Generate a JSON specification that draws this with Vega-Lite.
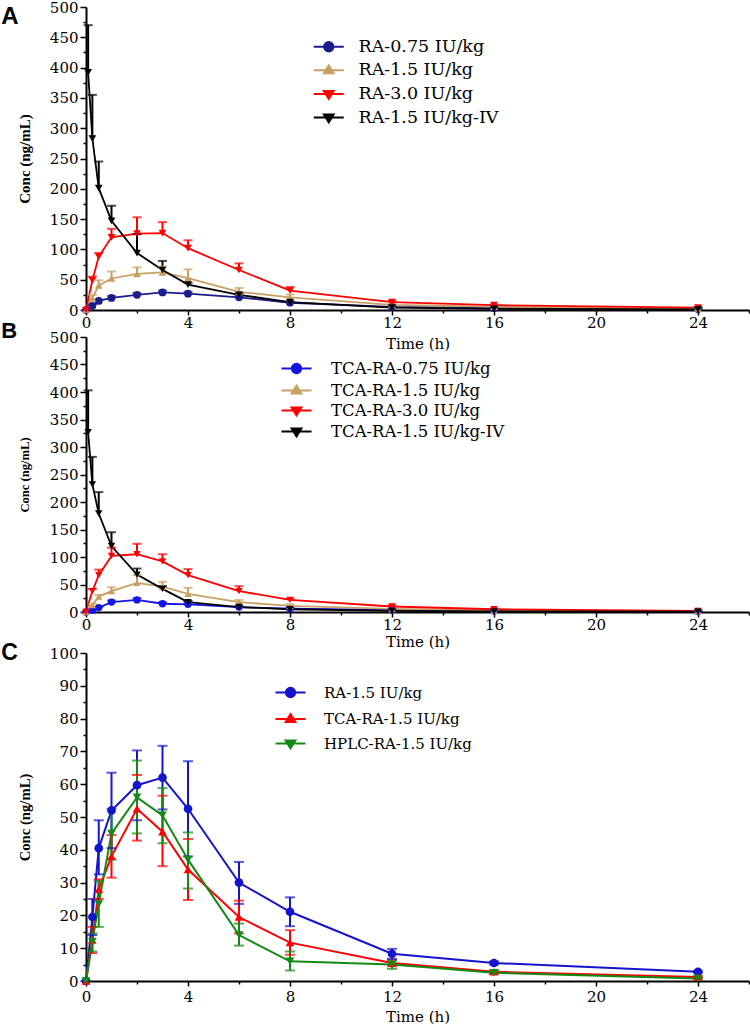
{
  "$schema": "https://vega.github.io/schema/vega-lite/v6.json",
  "background": "white",
  "padding": {"left": 1, "top": 0, "right": 0, "bottom": 0},
  "bounds": "flush",
  "spacing": 27,
  "resolve": {"scale": {"x": "independent", "y": "independent", "color": "independent"}, "legend": {"color": "independent"}},
  "config": {
    "view": {"stroke": null},
    "axis": {"grid": false, "domainColor": "#000000", "domainWidth": 2, "tickColor": "#000000", "tickWidth": 1.5, "labelColor": "#000000", "titleColor": "#000000", "labelFont": "DejaVu Serif", "labelFontSize": 15, "labelFlush": false, "labelOverlap": false, "labelBound": false},
    "legend": {"padding": 0, "labelColor": "#000000", "labelFont": "DejaVu Serif", "symbolSize": 225, "symbolStrokeWidth": 2, "labelLimit": 400}
  },
  "vconcat": [
    {
      "name": "pA",
      "width": 663,
      "height": 303,
      "title": {"text": "A", "anchor": "start", "frame": "bounds", "orient": "top", "baseline": "top", "offset": -29, "dx": -16, "font": "Liberation Sans", "fontSize": 24, "fontWeight": "bold", "color": "#000000"},
      "data": {"values": [
        {"s": "RA-0.75 IU/kg", "t": 0, "m": 0, "hi": 0},
        {"s": "RA-0.75 IU/kg", "t": 0.25, "m": 7, "hi": 9},
        {"s": "RA-0.75 IU/kg", "t": 0.5, "m": 15, "hi": 17},
        {"s": "RA-0.75 IU/kg", "t": 1, "m": 20, "hi": 23},
        {"s": "RA-0.75 IU/kg", "t": 2, "m": 25, "hi": 28},
        {"s": "RA-0.75 IU/kg", "t": 3, "m": 29, "hi": 32},
        {"s": "RA-0.75 IU/kg", "t": 4, "m": 27, "hi": 30},
        {"s": "RA-0.75 IU/kg", "t": 6, "m": 21, "hi": 23},
        {"s": "RA-0.75 IU/kg", "t": 8, "m": 12, "hi": 14},
        {"s": "RA-0.75 IU/kg", "t": 12, "m": 5, "hi": 6},
        {"s": "RA-0.75 IU/kg", "t": 16, "m": 3, "hi": 3.5},
        {"s": "RA-0.75 IU/kg", "t": 24, "m": 1.5, "hi": 2},
        {"s": "RA-1.5 IU/kg", "t": 0, "m": 0, "hi": 0},
        {"s": "RA-1.5 IU/kg", "t": 0.25, "m": 19.5, "hi": 25},
        {"s": "RA-1.5 IU/kg", "t": 0.5, "m": 40.5, "hi": 49},
        {"s": "RA-1.5 IU/kg", "t": 1, "m": 52, "hi": 63.5},
        {"s": "RA-1.5 IU/kg", "t": 2, "m": 59.7, "hi": 70.3},
        {"s": "RA-1.5 IU/kg", "t": 3, "m": 62, "hi": 71.7},
        {"s": "RA-1.5 IU/kg", "t": 4, "m": 52.5, "hi": 67},
        {"s": "RA-1.5 IU/kg", "t": 6, "m": 30, "hi": 36.3},
        {"s": "RA-1.5 IU/kg", "t": 8, "m": 21, "hi": 25.5},
        {"s": "RA-1.5 IU/kg", "t": 12, "m": 8.3, "hi": 9.8},
        {"s": "RA-1.5 IU/kg", "t": 16, "m": 5.5, "hi": 6},
        {"s": "RA-1.5 IU/kg", "t": 24, "m": 2.8, "hi": 3.1},
        {"s": "RA-3.0 IU/kg", "t": 0, "m": 0, "hi": 0},
        {"s": "RA-3.0 IU/kg", "t": 0.25, "m": 49, "hi": 55},
        {"s": "RA-3.0 IU/kg", "t": 0.5, "m": 88, "hi": 94},
        {"s": "RA-3.0 IU/kg", "t": 1, "m": 120, "hi": 134},
        {"s": "RA-3.0 IU/kg", "t": 2, "m": 126, "hi": 153},
        {"s": "RA-3.0 IU/kg", "t": 3, "m": 127, "hi": 145},
        {"s": "RA-3.0 IU/kg", "t": 4, "m": 102, "hi": 115},
        {"s": "RA-3.0 IU/kg", "t": 6, "m": 66, "hi": 77},
        {"s": "RA-3.0 IU/kg", "t": 8, "m": 32, "hi": 38},
        {"s": "RA-3.0 IU/kg", "t": 12, "m": 13, "hi": 15},
        {"s": "RA-3.0 IU/kg", "t": 16, "m": 8, "hi": 9},
        {"s": "RA-3.0 IU/kg", "t": 24, "m": 4, "hi": 5},
        {"s": "RA-1.5 IU/kg-IV", "t": 0.083, "m": 392, "hi": 470},
        {"s": "RA-1.5 IU/kg-IV", "t": 0.25, "m": 283, "hi": 355},
        {"s": "RA-1.5 IU/kg-IV", "t": 0.5, "m": 201, "hi": 245},
        {"s": "RA-1.5 IU/kg-IV", "t": 1, "m": 147, "hi": 172},
        {"s": "RA-1.5 IU/kg-IV", "t": 2, "m": 94, "hi": 125},
        {"s": "RA-1.5 IU/kg-IV", "t": 3, "m": 66, "hi": 81},
        {"s": "RA-1.5 IU/kg-IV", "t": 4, "m": 42, "hi": 45},
        {"s": "RA-1.5 IU/kg-IV", "t": 6, "m": 25, "hi": 27},
        {"s": "RA-1.5 IU/kg-IV", "t": 8, "m": 13, "hi": 14},
        {"s": "RA-1.5 IU/kg-IV", "t": 12, "m": 4, "hi": 5},
        {"s": "RA-1.5 IU/kg-IV", "t": 16, "m": 2, "hi": 2.5},
        {"s": "RA-1.5 IU/kg-IV", "t": 24, "m": 1, "hi": 1.2}
      ]},
      "encoding": {
        "x": {"field": "t", "type": "quantitative", "scale": {"domain": [0, 26], "nice": false, "zero": false},
          "axis": {"title": "Time (h)", "values": [0, 2, 4, 6, 8, 10, 12, 14, 16, 18, 20, 22, 24, 26], "labelExpr": "datum.value % 4 === 0 ? datum.label : ''", "tickSize": {"condition": {"test": "datum.value % 4 === 0", "value": 5}, "value": 3}, "labelPadding": 0, "titleFont": "DejaVu Serif", "titleFontSize": 15, "titleFontWeight": "normal", "titlePadding": 6}},
        "color": {"field": "s", "type": "nominal", "scale": {"domain": ["RA-0.75 IU/kg", "RA-1.5 IU/kg", "RA-3.0 IU/kg", "RA-1.5 IU/kg-IV"], "range": ["#1c1c8c", "#c8a064", "#ff0000", "#000000"]},
          "legend": {"orient": "none", "legendX": 234, "legendY": 31, "title": null, "labelFontSize": 17.5, "labelOffset": 21, "rowPadding": 4.6,
            "encode": {"symbols": {"update": {
              "shape": {"signal": "datum.value === 'RA-0.75 IU/kg' ? 'M-2,0L2,0M-0.62,0A0.62,0.62,0,1,1,0.62,0A0.62,0.62,0,1,1,-0.62,0Z' : datum.value === 'RA-1.5 IU/kg' ? 'M-2,0L2,0M-0.65,0.4L0.65,0.4L0,-0.65Z' : 'M-2,0L2,0M-0.65,-0.4L0.65,-0.4L0,0.65Z'"},
              "stroke": {"signal": "datum.value === 'RA-0.75 IU/kg' ? '#1c1c8c' : datum.value === 'RA-1.5 IU/kg' ? '#c8a064' : datum.value === 'RA-3.0 IU/kg' ? '#ff0000' : '#000000'"},
              "fill": {"signal": "datum.value === 'RA-0.75 IU/kg' ? '#1c1c8c' : datum.value === 'RA-1.5 IU/kg' ? '#c8a064' : datum.value === 'RA-3.0 IU/kg' ? '#ff0000' : '#000000'"},
              "strokeWidth": {"value": 2}, "size": {"value": 225}, "opacity": {"value": 1}}}}}}
      },
      "layer": [
        {"mark": {"type": "line", "strokeWidth": 1.8},
         "encoding": {"y": {"field": "m", "type": "quantitative", "title": "Conc (ng/mL)", "scale": {"domain": [0, 500], "nice": false},
           "axis": {"values": [0, 25, 50, 75, 100, 125, 150, 175, 200, 225, 250, 275, 300, 325, 350, 375, 400, 425, 450, 475, 500], "labelExpr": "datum.value % 50 === 0 ? datum.label : ''", "tickSize": {"condition": {"test": "datum.value % 50 === 0", "value": 6}, "value": 3}, "labelPadding": 2, "titleFont": "Liberation Serif", "titleFontSize": 15, "titleFontWeight": "bold", "titlePadding": 17}}}},
        {"mark": {"type": "rule", "strokeWidth": 2},
         "encoding": {"y": {"field": "m", "type": "quantitative", "title": "Conc (ng/mL)",
           "axis": {"values": [0, 25, 50, 75, 100, 125, 150, 175, 200, 225, 250, 275, 300, 325, 350, 375, 400, 425, 450, 475, 500], "labelExpr": "datum.value % 50 === 0 ? datum.label : ''", "tickSize": {"condition": {"test": "datum.value % 50 === 0", "value": 6}, "value": 3}, "labelPadding": 2, "titleFont": "Liberation Serif", "titleFontSize": 15, "titleFontWeight": "bold", "titlePadding": 17}}, "y2": {"field": "hi"}}},
        {"mark": {"type": "tick", "orient": "horizontal", "size": 9, "thickness": 2},
         "encoding": {"y": {"field": "hi", "type": "quantitative", "title": "Conc (ng/mL)",
           "axis": {"values": [0, 25, 50, 75, 100, 125, 150, 175, 200, 225, 250, 275, 300, 325, 350, 375, 400, 425, 450, 475, 500], "labelExpr": "datum.value % 50 === 0 ? datum.label : ''", "tickSize": {"condition": {"test": "datum.value % 50 === 0", "value": 6}, "value": 3}, "labelPadding": 2, "titleFont": "Liberation Serif", "titleFontSize": 15, "titleFontWeight": "bold", "titlePadding": 17}}}},
        {"mark": {"type": "point", "filled": true, "opacity": 1, "size": 60},
         "encoding": {"y": {"field": "m", "type": "quantitative", "title": "Conc (ng/mL)",
           "axis": {"values": [0, 25, 50, 75, 100, 125, 150, 175, 200, 225, 250, 275, 300, 325, 350, 375, 400, 425, 450, 475, 500], "labelExpr": "datum.value % 50 === 0 ? datum.label : ''", "tickSize": {"condition": {"test": "datum.value % 50 === 0", "value": 6}, "value": 3}, "labelPadding": 2, "titleFont": "Liberation Serif", "titleFontSize": 15, "titleFontWeight": "bold", "titlePadding": 17}},
           "shape": {"value": {"expr": "datum.s === 'RA-0.75 IU/kg' ? 'circle' : datum.s === 'RA-1.5 IU/kg' ? 'triangle-up' : 'triangle-down'"}}}}
      ]
    },
    {
      "name": "pB",
      "width": 663,
      "height": 275,
      "title": {"text": "B", "anchor": "start", "frame": "bounds", "orient": "top", "baseline": "middle", "offset": -23, "dx": -17, "font": "Liberation Sans", "fontSize": 22, "fontWeight": "bold", "color": "#000000"},
      "data": {"values": [
        {"s": "TCA-RA-0.75 IU/kg", "t": 0, "m": 0, "hi": 0},
        {"s": "TCA-RA-0.75 IU/kg", "t": 0.25, "m": 3, "hi": 4},
        {"s": "TCA-RA-0.75 IU/kg", "t": 0.5, "m": 8, "hi": 9},
        {"s": "TCA-RA-0.75 IU/kg", "t": 1, "m": 18, "hi": 21},
        {"s": "TCA-RA-0.75 IU/kg", "t": 2, "m": 22, "hi": 25},
        {"s": "TCA-RA-0.75 IU/kg", "t": 3, "m": 15, "hi": 18},
        {"s": "TCA-RA-0.75 IU/kg", "t": 4, "m": 14, "hi": 16},
        {"s": "TCA-RA-0.75 IU/kg", "t": 6, "m": 9, "hi": 11},
        {"s": "TCA-RA-0.75 IU/kg", "t": 8, "m": 6, "hi": 7},
        {"s": "TCA-RA-0.75 IU/kg", "t": 12, "m": 4, "hi": 5},
        {"s": "TCA-RA-0.75 IU/kg", "t": 16, "m": 2, "hi": 2.5},
        {"s": "TCA-RA-0.75 IU/kg", "t": 24, "m": 1, "hi": 1.5},
        {"s": "TCA-RA-1.5 IU/kg", "t": 0, "m": 0, "hi": 0},
        {"s": "TCA-RA-1.5 IU/kg", "t": 0.25, "m": 12.5, "hi": 15},
        {"s": "TCA-RA-1.5 IU/kg", "t": 0.5, "m": 28, "hi": 31},
        {"s": "TCA-RA-1.5 IU/kg", "t": 1, "m": 38, "hi": 45},
        {"s": "TCA-RA-1.5 IU/kg", "t": 2, "m": 53, "hi": 67},
        {"s": "TCA-RA-1.5 IU/kg", "t": 3, "m": 46, "hi": 55},
        {"s": "TCA-RA-1.5 IU/kg", "t": 4, "m": 33, "hi": 44},
        {"s": "TCA-RA-1.5 IU/kg", "t": 6, "m": 18, "hi": 22},
        {"s": "TCA-RA-1.5 IU/kg", "t": 8, "m": 11, "hi": 14},
        {"s": "TCA-RA-1.5 IU/kg", "t": 12, "m": 5.5, "hi": 6.5},
        {"s": "TCA-RA-1.5 IU/kg", "t": 16, "m": 2.8, "hi": 3.3},
        {"s": "TCA-RA-1.5 IU/kg", "t": 24, "m": 1.2, "hi": 1.5},
        {"s": "TCA-RA-3.0 IU/kg", "t": 0, "m": 0, "hi": 0},
        {"s": "TCA-RA-3.0 IU/kg", "t": 0.25, "m": 38, "hi": 42},
        {"s": "TCA-RA-3.0 IU/kg", "t": 0.5, "m": 67, "hi": 77},
        {"s": "TCA-RA-3.0 IU/kg", "t": 1, "m": 102, "hi": 117},
        {"s": "TCA-RA-3.0 IU/kg", "t": 2, "m": 105, "hi": 124},
        {"s": "TCA-RA-3.0 IU/kg", "t": 3, "m": 92, "hi": 105},
        {"s": "TCA-RA-3.0 IU/kg", "t": 4, "m": 67, "hi": 78},
        {"s": "TCA-RA-3.0 IU/kg", "t": 6, "m": 38, "hi": 47},
        {"s": "TCA-RA-3.0 IU/kg", "t": 8, "m": 22, "hi": 24},
        {"s": "TCA-RA-3.0 IU/kg", "t": 12, "m": 10, "hi": 12},
        {"s": "TCA-RA-3.0 IU/kg", "t": 16, "m": 5, "hi": 6},
        {"s": "TCA-RA-3.0 IU/kg", "t": 24, "m": 2, "hi": 3},
        {"s": "TCA-RA-1.5 IU/kg-IV", "t": 0.083, "m": 327, "hi": 403},
        {"s": "TCA-RA-1.5 IU/kg-IV", "t": 0.25, "m": 232, "hi": 282},
        {"s": "TCA-RA-1.5 IU/kg-IV", "t": 0.5, "m": 179, "hi": 218},
        {"s": "TCA-RA-1.5 IU/kg-IV", "t": 1, "m": 120, "hi": 145},
        {"s": "TCA-RA-1.5 IU/kg-IV", "t": 2, "m": 68, "hi": 79},
        {"s": "TCA-RA-1.5 IU/kg-IV", "t": 3, "m": 42, "hi": 47},
        {"s": "TCA-RA-1.5 IU/kg-IV", "t": 4, "m": 18, "hi": 20},
        {"s": "TCA-RA-1.5 IU/kg-IV", "t": 6, "m": 9, "hi": 10},
        {"s": "TCA-RA-1.5 IU/kg-IV", "t": 8, "m": 5, "hi": 6},
        {"s": "TCA-RA-1.5 IU/kg-IV", "t": 12, "m": 2, "hi": 2.5},
        {"s": "TCA-RA-1.5 IU/kg-IV", "t": 16, "m": 1, "hi": 1.2},
        {"s": "TCA-RA-1.5 IU/kg-IV", "t": 24, "m": 0.5, "hi": 0.6}
      ]},
      "encoding": {
        "x": {"field": "t", "type": "quantitative", "scale": {"domain": [0, 26], "nice": false, "zero": false},
          "axis": {"title": "Time (h)", "values": [0, 2, 4, 6, 8, 10, 12, 14, 16, 18, 20, 22, 24, 26], "labelExpr": "datum.value % 4 === 0 ? datum.label : ''", "tickSize": {"condition": {"test": "datum.value % 4 === 0", "value": 5}, "value": 3}, "labelPadding": 0, "titleFont": "DejaVu Serif", "titleFontSize": 15, "titleFontWeight": "normal", "titlePadding": 2}},
        "color": {"field": "s", "type": "nominal", "scale": {"domain": ["TCA-RA-0.75 IU/kg", "TCA-RA-1.5 IU/kg", "TCA-RA-3.0 IU/kg", "TCA-RA-1.5 IU/kg-IV"], "range": ["#1515e0", "#c8a064", "#ff0000", "#000000"]},
          "legend": {"orient": "none", "legendX": 202, "legendY": 23, "title": null, "labelFontSize": 16.5, "labelOffset": 26, "rowPadding": 3,
            "encode": {"symbols": {"update": {
              "shape": {"signal": "datum.value === 'TCA-RA-0.75 IU/kg' ? 'M-2,0L2,0M-0.62,0A0.62,0.62,0,1,1,0.62,0A0.62,0.62,0,1,1,-0.62,0Z' : datum.value === 'TCA-RA-1.5 IU/kg' ? 'M-2,0L2,0M-0.65,0.4L0.65,0.4L0,-0.65Z' : 'M-2,0L2,0M-0.65,-0.4L0.65,-0.4L0,0.65Z'"},
              "stroke": {"signal": "datum.value === 'TCA-RA-0.75 IU/kg' ? '#1515e0' : datum.value === 'TCA-RA-1.5 IU/kg' ? '#c8a064' : datum.value === 'TCA-RA-3.0 IU/kg' ? '#ff0000' : '#000000'"},
              "fill": {"signal": "datum.value === 'TCA-RA-0.75 IU/kg' ? '#1515e0' : datum.value === 'TCA-RA-1.5 IU/kg' ? '#c8a064' : datum.value === 'TCA-RA-3.0 IU/kg' ? '#ff0000' : '#000000'"},
              "strokeWidth": {"value": 2}, "size": {"value": 225}, "opacity": {"value": 1}}}}}}
      },
      "layer": [
        {"mark": {"type": "line", "strokeWidth": 1.8},
         "encoding": {"y": {"field": "m", "type": "quantitative", "title": "Conc (ng/mL)", "scale": {"domain": [0, 500], "nice": false},
           "axis": {"values": [0, 25, 50, 75, 100, 125, 150, 175, 200, 225, 250, 275, 300, 325, 350, 375, 400, 425, 450, 475, 500], "labelExpr": "datum.value % 50 === 0 ? datum.label : ''", "tickSize": {"condition": {"test": "datum.value % 50 === 0", "value": 6}, "value": 3}, "labelPadding": 2, "titleFont": "Liberation Serif", "titleFontSize": 12.6, "titleFontWeight": "bold", "titlePadding": 18}}}},
        {"mark": {"type": "rule", "strokeWidth": 2},
         "encoding": {"y": {"field": "m", "type": "quantitative", "title": "Conc (ng/mL)",
           "axis": {"values": [0, 25, 50, 75, 100, 125, 150, 175, 200, 225, 250, 275, 300, 325, 350, 375, 400, 425, 450, 475, 500], "labelExpr": "datum.value % 50 === 0 ? datum.label : ''", "tickSize": {"condition": {"test": "datum.value % 50 === 0", "value": 6}, "value": 3}, "labelPadding": 2, "titleFont": "Liberation Serif", "titleFontSize": 12.6, "titleFontWeight": "bold", "titlePadding": 18}}, "y2": {"field": "hi"}}},
        {"mark": {"type": "tick", "orient": "horizontal", "size": 9, "thickness": 2},
         "encoding": {"y": {"field": "hi", "type": "quantitative", "title": "Conc (ng/mL)",
           "axis": {"values": [0, 25, 50, 75, 100, 125, 150, 175, 200, 225, 250, 275, 300, 325, 350, 375, 400, 425, 450, 475, 500], "labelExpr": "datum.value % 50 === 0 ? datum.label : ''", "tickSize": {"condition": {"test": "datum.value % 50 === 0", "value": 6}, "value": 3}, "labelPadding": 2, "titleFont": "Liberation Serif", "titleFontSize": 12.6, "titleFontWeight": "bold", "titlePadding": 18}}}},
        {"mark": {"type": "point", "filled": true, "opacity": 1, "size": 55},
         "encoding": {"y": {"field": "m", "type": "quantitative", "title": "Conc (ng/mL)",
           "axis": {"values": [0, 25, 50, 75, 100, 125, 150, 175, 200, 225, 250, 275, 300, 325, 350, 375, 400, 425, 450, 475, 500], "labelExpr": "datum.value % 50 === 0 ? datum.label : ''", "tickSize": {"condition": {"test": "datum.value % 50 === 0", "value": 6}, "value": 3}, "labelPadding": 2, "titleFont": "Liberation Serif", "titleFontSize": 12.6, "titleFontWeight": "bold", "titlePadding": 18}},
           "shape": {"value": {"expr": "datum.s === 'TCA-RA-0.75 IU/kg' ? 'circle' : datum.s === 'TCA-RA-1.5 IU/kg' ? 'triangle-up' : 'triangle-down'"}}}}
      ]
    },
    {
      "name": "pC",
      "width": 663,
      "height": 342,
      "title": {"text": "C", "anchor": "start", "frame": "bounds", "orient": "top", "baseline": "middle", "offset": -37, "dx": -16, "font": "Liberation Sans", "fontSize": 23, "fontWeight": "bold", "color": "#000000"},
      "data": {"values": [
        {"s": "RA-1.5 IU/kg", "t": 0, "m": 0, "lo": 0, "hi": 0},
        {"s": "RA-1.5 IU/kg", "t": 0.25, "m": 19.5, "lo": 14, "hi": 25},
        {"s": "RA-1.5 IU/kg", "t": 0.5, "m": 40.5, "lo": 32.5, "hi": 49},
        {"s": "RA-1.5 IU/kg", "t": 1, "m": 52, "lo": 40.5, "hi": 63.5},
        {"s": "RA-1.5 IU/kg", "t": 2, "m": 59.7, "lo": 49, "hi": 70.3},
        {"s": "RA-1.5 IU/kg", "t": 3, "m": 62, "lo": 52.3, "hi": 71.7},
        {"s": "RA-1.5 IU/kg", "t": 4, "m": 52.5, "lo": 38, "hi": 67},
        {"s": "RA-1.5 IU/kg", "t": 6, "m": 30, "lo": 23.5, "hi": 36.3},
        {"s": "RA-1.5 IU/kg", "t": 8, "m": 21.1, "lo": 16.7, "hi": 25.5},
        {"s": "RA-1.5 IU/kg", "t": 12, "m": 8.3, "lo": 6.8, "hi": 9.8},
        {"s": "RA-1.5 IU/kg", "t": 16, "m": 5.5, "lo": 5, "hi": 6},
        {"s": "RA-1.5 IU/kg", "t": 24, "m": 2.8, "lo": 2.5, "hi": 3.1},
        {"s": "TCA-RA-1.5 IU/kg", "t": 0, "m": 0, "lo": 0, "hi": 0},
        {"s": "TCA-RA-1.5 IU/kg", "t": 0.25, "m": 12.5, "lo": 8.5, "hi": 16.5},
        {"s": "TCA-RA-1.5 IU/kg", "t": 0.5, "m": 28, "lo": 25, "hi": 31},
        {"s": "TCA-RA-1.5 IU/kg", "t": 1, "m": 38, "lo": 31.5, "hi": 44.5},
        {"s": "TCA-RA-1.5 IU/kg", "t": 2, "m": 52.5, "lo": 42.8, "hi": 62.8},
        {"s": "TCA-RA-1.5 IU/kg", "t": 3, "m": 45.5, "lo": 35, "hi": 56.5},
        {"s": "TCA-RA-1.5 IU/kg", "t": 4, "m": 34, "lo": 24.7, "hi": 43.3},
        {"s": "TCA-RA-1.5 IU/kg", "t": 6, "m": 19.5, "lo": 14.5, "hi": 24.5},
        {"s": "TCA-RA-1.5 IU/kg", "t": 8, "m": 11.7, "lo": 8, "hi": 15.5},
        {"s": "TCA-RA-1.5 IU/kg", "t": 12, "m": 5.5, "lo": 4.5, "hi": 6.5},
        {"s": "TCA-RA-1.5 IU/kg", "t": 16, "m": 2.8, "lo": 2.3, "hi": 3.3},
        {"s": "TCA-RA-1.5 IU/kg", "t": 24, "m": 1.2, "lo": 0.9, "hi": 1.5},
        {"s": "HPLC-RA-1.5 IU/kg", "t": 0, "m": 0, "lo": 0, "hi": 0},
        {"s": "HPLC-RA-1.5 IU/kg", "t": 0.25, "m": 12, "lo": 9, "hi": 14.5},
        {"s": "HPLC-RA-1.5 IU/kg", "t": 0.5, "m": 23.5, "lo": 16.5, "hi": 30.5},
        {"s": "HPLC-RA-1.5 IU/kg", "t": 1, "m": 45, "lo": 37, "hi": 52.5},
        {"s": "HPLC-RA-1.5 IU/kg", "t": 2, "m": 56, "lo": 45, "hi": 67.2},
        {"s": "HPLC-RA-1.5 IU/kg", "t": 3, "m": 50.5, "lo": 42, "hi": 58.8},
        {"s": "HPLC-RA-1.5 IU/kg", "t": 4, "m": 37, "lo": 28.2, "hi": 45.3},
        {"s": "HPLC-RA-1.5 IU/kg", "t": 6, "m": 14, "lo": 10.8, "hi": 17.5},
        {"s": "HPLC-RA-1.5 IU/kg", "t": 8, "m": 6, "lo": 3.2, "hi": 9},
        {"s": "HPLC-RA-1.5 IU/kg", "t": 12, "m": 5, "lo": 3.7, "hi": 6.3},
        {"s": "HPLC-RA-1.5 IU/kg", "t": 16, "m": 2.5, "lo": 2.2, "hi": 2.8},
        {"s": "HPLC-RA-1.5 IU/kg", "t": 24, "m": 0.8, "lo": 0.6, "hi": 1}
      ]},
      "encoding": {
        "x": {"field": "t", "type": "quantitative", "scale": {"domain": [0, 26], "nice": false, "zero": false},
          "axis": {"title": "Time (h)", "values": [0, 2, 4, 6, 8, 10, 12, 14, 16, 18, 20, 22, 24, 26], "labelExpr": "datum.value % 4 === 0 ? datum.label : ''", "tickSize": {"condition": {"test": "datum.value % 4 === 0", "value": 5}, "value": 3}, "labelPadding": 3, "titleFont": "DejaVu Serif", "titleFontSize": 15, "titleFontWeight": "normal", "titlePadding": 5}},
        "color": {"field": "s", "type": "nominal", "scale": {"domain": ["RA-1.5 IU/kg", "TCA-RA-1.5 IU/kg", "HPLC-RA-1.5 IU/kg"], "range": ["#1414cc", "#ff0000", "#138a13"]},
          "legend": {"orient": "none", "legendX": 196, "legendY": 45, "title": null, "labelFontSize": 15, "labelOffset": 25, "rowPadding": 7.5,
            "encode": {"symbols": {"update": {
              "shape": {"signal": "datum.value === 'RA-1.5 IU/kg' ? 'M-2,0L2,0M-0.62,0A0.62,0.62,0,1,1,0.62,0A0.62,0.62,0,1,1,-0.62,0Z' : datum.value === 'TCA-RA-1.5 IU/kg' ? 'M-2,0L2,0M-0.65,0.4L0.65,0.4L0,-0.65Z' : 'M-2,0L2,0M-0.65,-0.4L0.65,-0.4L0,0.65Z'"},
              "stroke": {"signal": "datum.value === 'RA-1.5 IU/kg' ? '#1414cc' : datum.value === 'TCA-RA-1.5 IU/kg' ? '#ff0000' : '#138a13'"},
              "fill": {"signal": "datum.value === 'RA-1.5 IU/kg' ? '#1414cc' : datum.value === 'TCA-RA-1.5 IU/kg' ? '#ff0000' : '#138a13'"},
              "strokeWidth": {"value": 2}, "size": {"value": 225}, "opacity": {"value": 1}}}}}}
      },
      "layer": [
        {"mark": {"type": "line", "strokeWidth": 2},
         "encoding": {"y": {"field": "m", "type": "quantitative", "title": "Conc (ng/mL)", "scale": {"domain": [0, 100], "nice": false, "range": [342, 14]},
           "axis": {"values": [0, 5, 10, 15, 20, 25, 30, 35, 40, 45, 50, 55, 60, 65, 70, 75, 80, 85, 90, 95, 100], "labelExpr": "datum.value % 10 === 0 ? datum.label : ''", "tickSize": {"condition": {"test": "datum.value % 10 === 0", "value": 6}, "value": 3}, "labelPadding": 2, "titleFont": "Liberation Serif", "titleFontSize": 14.7, "titleFontWeight": "bold", "titlePadding": 17}}}},
        {"mark": {"type": "rule", "strokeWidth": 2},
         "encoding": {"y": {"field": "lo", "type": "quantitative", "title": "Conc (ng/mL)",
           "axis": {"values": [0, 5, 10, 15, 20, 25, 30, 35, 40, 45, 50, 55, 60, 65, 70, 75, 80, 85, 90, 95, 100], "labelExpr": "datum.value % 10 === 0 ? datum.label : ''", "tickSize": {"condition": {"test": "datum.value % 10 === 0", "value": 6}, "value": 3}, "labelPadding": 2, "titleFont": "Liberation Serif", "titleFontSize": 14.7, "titleFontWeight": "bold", "titlePadding": 17}}, "y2": {"field": "hi"}}},
        {"mark": {"type": "tick", "orient": "horizontal", "size": 10, "thickness": 2},
         "encoding": {"y": {"field": "hi", "type": "quantitative", "title": "Conc (ng/mL)",
           "axis": {"values": [0, 5, 10, 15, 20, 25, 30, 35, 40, 45, 50, 55, 60, 65, 70, 75, 80, 85, 90, 95, 100], "labelExpr": "datum.value % 10 === 0 ? datum.label : ''", "tickSize": {"condition": {"test": "datum.value % 10 === 0", "value": 6}, "value": 3}, "labelPadding": 2, "titleFont": "Liberation Serif", "titleFontSize": 14.7, "titleFontWeight": "bold", "titlePadding": 17}}}},
        {"mark": {"type": "tick", "orient": "horizontal", "size": 10, "thickness": 2},
         "encoding": {"y": {"field": "lo", "type": "quantitative", "title": "Conc (ng/mL)",
           "axis": {"values": [0, 5, 10, 15, 20, 25, 30, 35, 40, 45, 50, 55, 60, 65, 70, 75, 80, 85, 90, 95, 100], "labelExpr": "datum.value % 10 === 0 ? datum.label : ''", "tickSize": {"condition": {"test": "datum.value % 10 === 0", "value": 6}, "value": 3}, "labelPadding": 2, "titleFont": "Liberation Serif", "titleFontSize": 14.7, "titleFontWeight": "bold", "titlePadding": 17}}}},
        {"mark": {"type": "point", "filled": true, "opacity": 1, "size": 75},
         "encoding": {"y": {"field": "m", "type": "quantitative", "title": "Conc (ng/mL)",
           "axis": {"values": [0, 5, 10, 15, 20, 25, 30, 35, 40, 45, 50, 55, 60, 65, 70, 75, 80, 85, 90, 95, 100], "labelExpr": "datum.value % 10 === 0 ? datum.label : ''", "tickSize": {"condition": {"test": "datum.value % 10 === 0", "value": 6}, "value": 3}, "labelPadding": 2, "titleFont": "Liberation Serif", "titleFontSize": 14.7, "titleFontWeight": "bold", "titlePadding": 17}},
           "shape": {"value": {"expr": "datum.s === 'RA-1.5 IU/kg' ? 'circle' : datum.s === 'TCA-RA-1.5 IU/kg' ? 'triangle-up' : 'triangle-down'"}}}}
      ]
    }
  ]
}
